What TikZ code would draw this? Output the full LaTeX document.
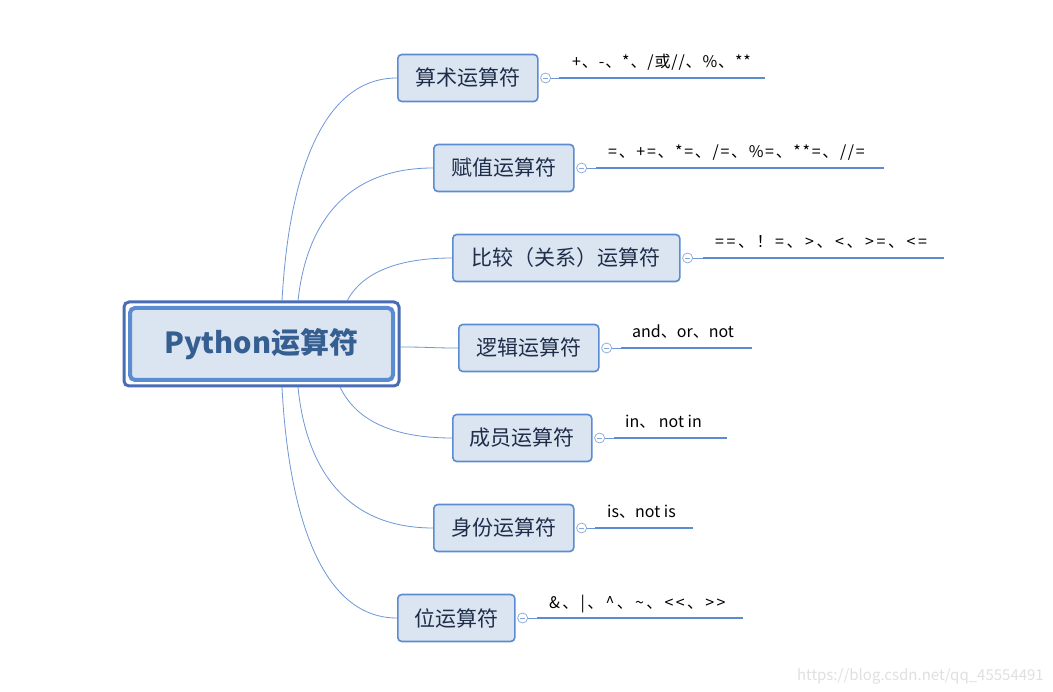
\documentclass[tikz,border=0pt]{standalone}
\usepackage{fontspec}
\setmainfont{Noto Sans CJK SC}
\usetikzlibrary{calc}
\definecolor{boxfill}{HTML}{DBE5F1}
\definecolor{boxline}{HTML}{5B8BD0}
\definecolor{boxtext}{HTML}{1F2D4A}
\definecolor{roottext}{HTML}{365F91}
\definecolor{rootouter}{HTML}{4A6CB5}
\definecolor{branch}{HTML}{6F97D5}
\definecolor{wmgray}{HTML}{E0E0E0}
\newcommand{\lsp}[1]{\addfontfeature{LetterSpace=#1}}
\begin{document}
\begin{tikzpicture}[x=1pt,y=-1pt,
  topic/.style={draw=boxline, line width=1.6pt, fill=boxfill, rounded corners=4pt,
    minimum height=47pt, inner xsep=14pt, text=boxtext,
    font=\fontsize{21}{24}\selectfont, anchor=west},
  collapse/.style={circle, draw=branch!85, fill=white, line width=0.7pt,
    minimum size=10pt, inner sep=0pt,
    path picture={\draw[branch!85, line width=0.7pt]
      ([xshift=-2.5pt]path picture bounding box.center) --
      ([xshift=2.5pt]path picture bounding box.center);}},
  uline/.style={draw=boxline, line width=2.6pt},
  thinlink/.style={draw=branch, line width=0.8pt},
  detail/.style={anchor=base west, inner sep=0pt, font=\fontsize{16}{18}\selectfont, text=black},
  curve/.style={draw=branch, line width=0.8pt}]

\useasboundingbox[fill=white] (0,0) rectangle (1053,692);

% root
\node[draw=rootouter, line width=3pt, rounded corners=5pt, minimum width=275pt,
  minimum height=84pt] (rootbox) at (261.5,344) {};
\node[draw=boxline, line width=4pt, fill=boxfill, rounded corners=5pt,
  minimum width=263pt, minimum height=72pt,
  font=\fontsize{29}{32}\selectfont\bfseries, text=roottext] (root) at (261.5,344) {Python运算符};

% children
\node[topic, minimum width=140pt] (b1) at (397,78) {算术运算符};
\node[topic, minimum width=140pt] (b2) at (433,168) {赋值运算符};
\node[topic, minimum width=227pt] (b3) at (452,258) {比较（关系）运算符};
\node[topic, minimum width=140pt] (b4) at (458,348) {逻辑运算符};
\node[topic, minimum width=139pt] (b5) at (452,438) {成员运算符};
\node[topic, minimum width=140pt] (b6) at (433,528) {身份运算符};
\node[topic, minimum width=117pt] (b7) at (397,618) {位运算符};

% start points on root
\coordinate (r1) at (282,301);
\coordinate (r2) at (298,301);
\coordinate (r3) at (347,301);
\coordinate (r4) at (400,347);
\coordinate (r5) at (340,387);
\coordinate (r6) at (298,387);
\coordinate (r7) at (282,387);

\draw[curve] (r1) .. controls (288,189) and (317,78) .. (b1.west);
\draw[curve] (r2) .. controls (305,234) and (338,168) .. (b2.west);
\draw[curve] (r3) .. controls (358,280) and (385,258) .. (b3.west);
\draw[curve] (r4) .. controls (430,347) and (430,348) .. (b4.west);
\draw[curve] (r5) .. controls (352,412) and (380,438) .. (b5.west);
\draw[curve] (r6) .. controls (305,458) and (338,528) .. (b6.west);
\draw[curve] (r7) .. controls (288,503) and (317,618) .. (b7.west);

% collapse markers
\node[collapse] (c1) at ($(b1.east)+(7,0)$) {};
\node[collapse] (c2) at ($(b2.east)+(7,0)$) {};
\node[collapse] (c3) at ($(b3.east)+(7,0)$) {};
\node[collapse] (c4) at ($(b4.east)+(7,0)$) {};
\node[collapse] (c5) at ($(b5.east)+(7,0)$) {};
\node[collapse] (c6) at ($(b6.east)+(7,0)$) {};
\node[collapse] (c7) at ($(b7.east)+(7,0)$) {};

% underline start / end
\coordinate (u1) at (559,78);  \coordinate (v1) at (765,78);
\coordinate (u2) at (596,168); \coordinate (v2) at (884,168);
\coordinate (u3) at (703,258); \coordinate (v3) at (944,258);
\coordinate (u4) at (621,348); \coordinate (v4) at (752,348);
\coordinate (u5) at (614,438); \coordinate (v5) at (727,438);
\coordinate (u6) at (595,528); \coordinate (v6) at (693,528);
\coordinate (u7) at (537,618); \coordinate (v7) at (743,618);

\draw[thinlink] (c1) -- (u1); \draw[uline] (u1) -- (v1);
\draw[thinlink] (c2) -- (u2); \draw[uline] (u2) -- (v2);
\draw[thinlink] (c3) -- (u3); \draw[uline] (u3) -- (v3);
\draw[thinlink] (c4) -- (u4); \draw[uline] (u4) -- (v4);
\draw[thinlink] (c5) -- (u5); \draw[uline] (u5) -- (v5);
\draw[thinlink] (c6) -- (u6); \draw[uline] (u6) -- (v6);
\draw[thinlink] (c7) -- (u7); \draw[uline] (u7) -- (v7);

% details
\node[detail] (t1) at (572,68) {\lsp{5.5}+、-、*、/或//、\%、**};
\node[detail] (t2) at (608,158) {\lsp{10.5}=、+=、*=、/=、\%=、**=、//=};
\node[detail] (t3) at (715,248) {\lsp{16}==、！=、>、<、>=、<=};
\node[detail] (t4) at (632,338) {and、or、not};
\node[detail] (t5) at (625,428) {in、 not in};
\node[detail] (t6) at (607,518) {is、not is};
\node[detail] (t7) at (549,608) {\lsp{14.5}\&、|、\textasciicircum、\textasciitilde、<{}<、>{}>};

% watermark
\node[anchor=east, inner sep=0pt, text=wmgray, font=\fontsize{15}{16}\selectfont] (wm) at (1044,676) {https://blog.csdn.net/qq\_45554491};
\end{tikzpicture}
\end{document}
